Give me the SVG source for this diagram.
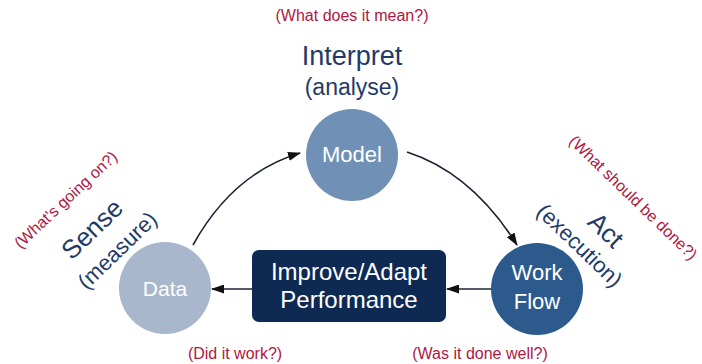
<svg xmlns="http://www.w3.org/2000/svg" width="702" height="364" viewBox="0 0 702 364">
<style>
text{font-family:"Liberation Sans","DejaVu Sans",Arial,sans-serif;text-anchor:middle}
.q{fill:#b0173f;font-size:16px}
.lbl{fill:#1f3a68}
.w{fill:#ffffff}
.conn{fill:none;stroke:#1a2233;stroke-width:1.6}
</style>
<defs>
<marker id="ah" viewBox="0 0 13 9" refX="12" refY="4.5" markerWidth="13" markerHeight="9" markerUnits="userSpaceOnUse" orient="auto">
<path d="M0,0 L13,4.5 L0,9 Z" fill="#111"/>
</marker>
</defs>
<rect width="702" height="364" fill="#ffffff"/>
<g id="connectors">
<path class="conn" d="M193,245 Q233,173 300,153" marker-end="url(#ah)"/>
<path class="conn" d="M407,152 Q472,173 517,245" marker-end="url(#ah)"/>
<path class="conn" d="M252,289 L212,289" marker-end="url(#ah)"/>
<path class="conn" d="M491,289 L447,289" marker-end="url(#ah)"/>
</g>
<g id="model">
<circle cx="352" cy="155" r="46" fill="#7090b5"/>
<text class="w" x="352" y="162" font-size="22">Model</text>
</g>
<g id="data">
<circle cx="165" cy="288" r="46" fill="#a8b7cc"/>
<text class="w" x="165" y="296" font-size="21">Data</text>
</g>
<g id="workflow">
<circle cx="537" cy="289" r="46" fill="#2c5a8d"/>
<text class="w" x="537" y="280" font-size="22">Work</text>
<text class="w" x="537" y="309" font-size="22">Flow</text>
</g>
<g id="improve">
<rect x="252" y="250" width="194" height="72" rx="7" fill="#0e2a53"/>
<text class="w" x="349" y="280" font-size="24">Improve/Adapt</text>
<text class="w" x="349" y="308" font-size="24">Performance</text>
</g>
<g id="interpret">
<text class="q" x="352" y="21">(What does it mean?)</text>
<text class="lbl" x="352" y="65" font-size="27">Interpret</text>
<text class="lbl" x="352" y="95" font-size="23">(analyse)</text>
</g>
<g id="sense">
<text class="q" transform="translate(66,200) rotate(-43)" y="5">(What's going on?)</text>
<text class="lbl" transform="translate(92,229) rotate(-44)" y="9" font-size="26">Sense</text>
<text class="lbl" transform="translate(117,250) rotate(-44)" y="8" font-size="22">(measure)</text>
</g>
<g id="act">
<text class="q" transform="translate(633,198) rotate(44)" y="5">(What should be done?)</text>
<text class="lbl" transform="translate(606,230) rotate(44)" y="9" font-size="26">Act</text>
<text class="lbl" transform="translate(580,245) rotate(44)" y="8" font-size="22">(execution)</text>
</g>
<g id="bottom">
<text class="q" x="235" y="359">(Did it work?)</text>
<text class="q" x="480" y="359">(Was it done well?)</text>
</g>
</svg>
